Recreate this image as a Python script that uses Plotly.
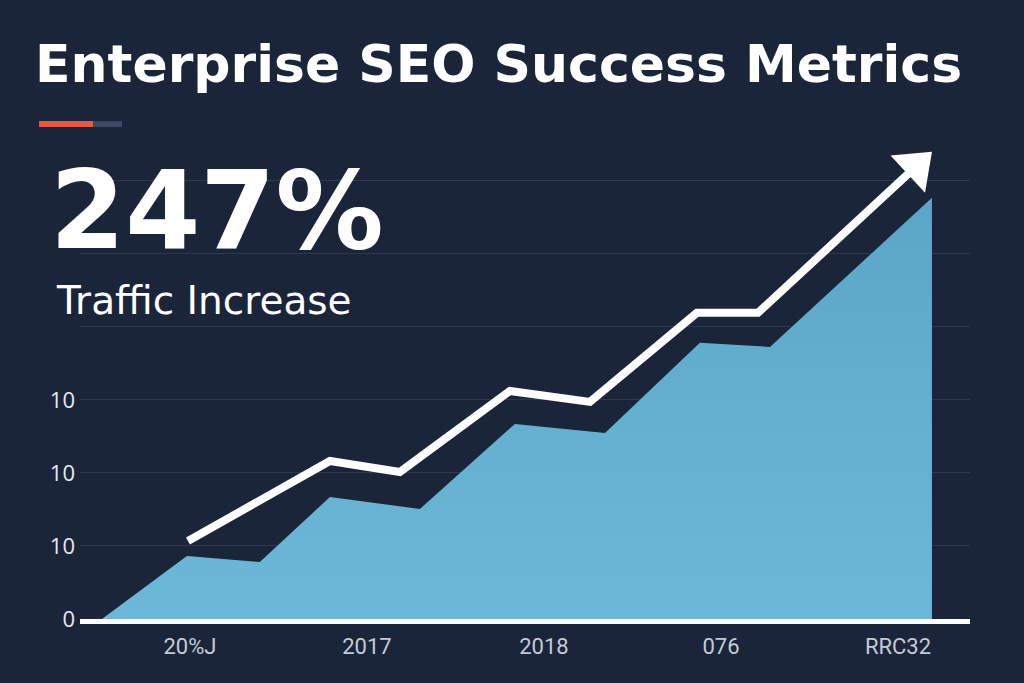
import plotly.graph_objects as go

# ---- data ----
x_tick_pos = [0, 1, 2, 3, 4]
x_tick_labels = ["20%J", "2017", "2018", "076", "RRC32"]
y_tick_pos = [0, 1, 2, 3, 4, 5, 6]
y_tick_labels = ["0", "10", "10", "10", "", "", ""]

area_x = [-0.497, -0.017, 0.395, 0.791, 1.299, 1.836, 2.345, 2.881, 3.277, 4.192]
area_y = [0.0, 0.863, 0.781, 1.671, 1.507, 2.671, 2.548, 3.781, 3.726, 5.767]

trend_x = [-0.011, 0.791, 1.186, 1.808, 2.260, 2.864, 3.209, 4.101]
trend_y = [1.068, 2.164, 2.014, 3.123, 2.973, 4.192, 4.192, 6.193]

title_text = "Enterprise SEO Success Metrics"
kpi_value = "247%"
kpi_label = "Traffic Increase"

BG = "#1b253a"
WHITE = "#ffffff"

fig = go.Figure()

fig.add_trace(go.Scatter(
    x=area_x, y=area_y, mode="lines", line=dict(width=0, color="#64afcd"),
    fill="tozeroy", fillcolor="#64afcd",
    fillgradient=dict(type="vertical",
                      colorscale=[[0, "#6cb9d7"], [1, "#5ba6c6"]]),
    hoverinfo="skip", showlegend=False,
))

fig.add_trace(go.Scatter(
    x=trend_x, y=trend_y, mode="lines",
    line=dict(color=WHITE, width=8),
    hoverinfo="skip", showlegend=False,
))

# arrow head at the end of the trend line
fig.add_trace(go.Scatter(
    x=trend_x[-2:], y=trend_y[-2:], mode="markers",
    marker=dict(symbol="triangle-up", size=[0, 44], color=WHITE, opacity=1,
                angleref="previous", line=dict(width=0, color=WHITE)),
    opacity=1, hoverinfo="skip", showlegend=False,
))

fig.update_layout(
    width=1024, height=683,
    paper_bgcolor=BG, plot_bgcolor=BG,
    margin=dict(l=80, r=54, t=137, b=64),
    showlegend=False,
    xaxis=dict(range=[-0.621, 4.407], tickvals=x_tick_pos, ticktext=x_tick_labels,
               showgrid=False, zeroline=False, showline=True, linecolor=WHITE,
               linewidth=5, ticks="",
               tickfont=dict(family="Roboto", size=22, color="#c4cbd5"),
               ticklabelstandoff=4, fixedrange=True),
    yaxis=dict(range=[0, 6.6], tickvals=y_tick_pos, ticktext=y_tick_labels,
               showgrid=True, gridcolor="#2d394f", gridwidth=1, zeroline=False,
               showline=False, ticks="",
               tickfont=dict(family="Open Sans", size=22, color="#e6eaef"),
               ticklabelstandoff=4, fixedrange=True),
    shapes=[
        dict(type="rect", xref="paper", yref="paper", x0=-0.046, x1=0.0146,
             y0=1.0207, y1=1.033, fillcolor="#e8573f", line=dict(width=0)),
        dict(type="rect", xref="paper", yref="paper", x0=0.0146, x1=0.0472,
             y0=1.0207, y1=1.033, fillcolor="#3d4a61", line=dict(width=0)),
    ],
    annotations=[
        dict(text=title_text, xref="paper", yref="paper", x=-0.0530, y=1.1515,
             xanchor="left", yanchor="middle", showarrow=False,
             font=dict(family="DejaVu Sans", size=52, color=WHITE, weight="bold")),
        dict(text=kpi_value, xref="paper", yref="paper", x=-0.0360, y=0.8465,
             xanchor="left", yanchor="middle", showarrow=False,
             font=dict(family="DejaVu Sans", size=108, color=WHITE, weight="bold")),
        dict(text=kpi_label, xref="paper", yref="paper", x=-0.0290, y=0.660,
             xanchor="left", yanchor="middle", showarrow=False,
             font=dict(family="DejaVu Sans", size=39, color=WHITE)),
    ],
)

fig.write_html("out.html")
